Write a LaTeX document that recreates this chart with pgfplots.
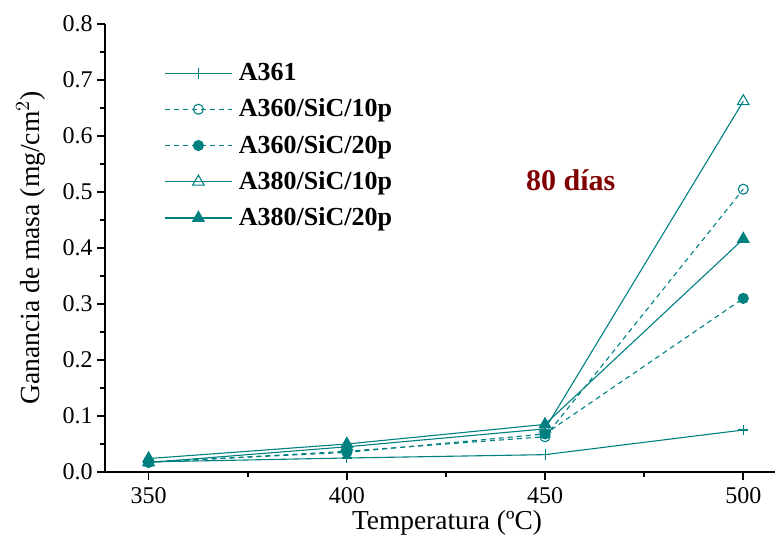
\documentclass[border=0pt]{standalone}
\usepackage{pgfplots}
\pgfplotsset{compat=1.18}
\usepackage{fontspec}
\setmainfont{Liberation Serif}
\definecolor{tl}{RGB}{0,128,128}
\definecolor{dred}{RGB}{128,0,0}
\begin{document}
\begin{tikzpicture}
\begin{axis}[
  at={(0,0)}, anchor=south west,
  scale only axis, width=335pt, height=224pt,
  xmin=339, xmax=508, ymin=0, ymax=0.8,
  axis lines=left, axis line style={-, line width=0.9pt},
  xtick={350,400,450,500}, minor xtick={375,425,475},
  ytick={0,0.1,...,0.8}, minor ytick={0.05,0.15,...,0.75},
  tick align=outside, tick style={black, line width=0.8pt},
  major tick length=4pt, minor tick length=2.5pt,
  yticklabel style={inner xsep=2pt, /pgf/number format/.cd, fixed, fixed zerofill, precision=1},
  /pgf/number format/assume math mode=true,
  ticklabel style={font=\fontsize{12}{14}\selectfont},
  xlabel={Temperatura (ºC)}, ylabel={Ganancia de masa (mg/cm$^2$)},
  xlabel style={font=\fontsize{13.7}{16}\selectfont, yshift=3.5pt, xshift=3.5pt},
  ylabel style={font=\fontsize{13.8}{16}\selectfont, yshift=3pt},
  legend style={draw=none, fill=none, at={(0.088,0.922)}, anchor=north west,
    font=\fontsize{13}{15}\selectfont\bfseries, inner sep=0pt, row sep=3.6pt,
    nodes={inner xsep=3.2pt}},
  legend cell align=left,
  legend image code/.code={\draw[#1, mark=none] (0pt,0pt) -- (33.5pt,0pt);
    \draw[#1, only marks] plot coordinates {(16.75pt,0pt)};},
  every axis plot/.append style={line width=0.55pt, color=tl},
]
\addplot[mark=+, mark size=2.6pt, mark options={solid}] coordinates {(350,0.018)(400,0.025)(450,0.031)(500,0.075)};
\addlegendentry{A361}
\addplot[dashed, dash pattern=on 2.5pt off 2pt, mark=o, mark size=2.5pt, mark options={solid, fill=white}] coordinates {(350,0.017)(400,0.037)(450,0.063)(500,0.505)};
\addlegendentry{A360/SiC/10p}
\addplot[dashed, dash pattern=on 2.5pt off 2pt, mark=*, mark size=2.5pt, mark options={solid, fill=tl}] coordinates {(350,0.018)(400,0.035)(450,0.068)(500,0.31)};
\addlegendentry{A360/SiC/20p}
\addplot[mark=triangle, mark size=3.3pt, mark options={solid, fill=white}] coordinates {(350,0.017)(400,0.045)(450,0.077)(500,0.662)};
\addlegendentry{A380/SiC/10p}
\addplot[mark=triangle*, mark size=3.3pt, mark options={solid, fill=tl}] coordinates {(350,0.024)(400,0.05)(450,0.085)(500,0.416)};
\addlegendentry{A380/SiC/20p}
\node[font=\fontsize{15}{17}\selectfont\bfseries, text=dred] at (axis cs:456.5,0.521) {80 días};
\end{axis}
\pgfresetboundingbox
\path (-52.5pt,-31.5pt) rectangle (335pt,236pt);
\end{tikzpicture}
\end{document}
